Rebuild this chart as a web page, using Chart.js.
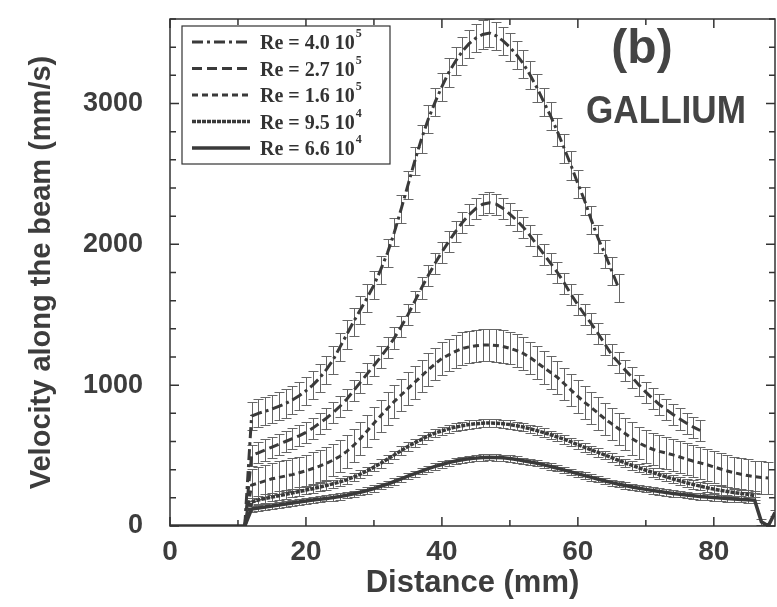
<!DOCTYPE html>
<html>
<head>
<meta charset="utf-8">
<script src="https://cdn.jsdelivr.net/npm/chart.js@4.4.0/dist/chart.umd.min.js"></script>
<style>
  html, body { margin: 0; padding: 0; background: #fff; }
  #wrap { width: 777px; height: 607px; position: relative; }
</style>
</head>
<body>
<div id="wrap"><canvas id="velocityChart"></canvas></div>
<script>
// sampling grid along the beam (mm)
const distance = [0, 1, 2, 3, 4, 5, 6, 7, 8, 9, 10, 11, 12, 13, 14, 15, 16, 17, 18, 19,
  20, 21, 22, 23, 24, 25, 26, 27, 28, 29, 30, 31, 32, 33, 34, 35, 36, 37, 38, 39,
  40, 41, 42, 43, 44, 45, 46, 47, 48, 49, 50, 51, 52, 53, 54, 55, 56, 57, 58, 59,
  60, 61, 62, 63, 64, 65, 66, 67, 68, 69, 70, 71, 72, 73, 74, 75, 76, 77, 78, 79,
  80, 81, 82, 83, 84, 85, 86, 87, 88, 89];

// velocity (mm/s), each series starts at distance[start]
const re40Start = 11;
const re40 = [0, 780, 800, 815, 830, 850, 870, 895, 925, 960, 1000, 1050, 1110, 1180, 1270,
  1360, 1450, 1535, 1620, 1710, 1820, 1940, 2085, 2250, 2420, 2590, 2750, 2890, 3010, 3120,
  3220, 3300, 3370, 3425, 3465, 3490, 3500, 3480, 3445, 3400, 3345, 3280, 3200, 3110, 3010,
  2910, 2800, 2680, 2560, 2430, 2310, 2170, 2040, 1930, 1810, 1690];

const re27Start = 11;
const re27 = [0, 500, 520, 540, 560, 580, 600, 620, 640, 665, 695, 730, 765, 805, 850,
  900, 960, 1020, 1080, 1140, 1200, 1265, 1335, 1415, 1500, 1595, 1690, 1780, 1865, 1945,
  2020, 2090, 2155, 2210, 2255, 2285, 2295, 2285, 2255, 2215, 2170, 2120, 2060, 1995, 1930,
  1865, 1800, 1725, 1645, 1570, 1500, 1435, 1365, 1290, 1215, 1160, 1105, 1055, 1000, 950,
  905, 862, 826, 792, 760, 730, 702, 678];

const re16Start = 11;
const re16 = [0, 290, 305, 320, 335, 345, 355, 365, 378, 392, 408, 425, 445, 468, 495,
  530, 572, 620, 675, 730, 783, 835, 885, 930, 975, 1020, 1065, 1110, 1150, 1190,
  1215, 1240, 1260, 1272, 1280, 1285, 1286, 1282, 1275, 1262, 1245, 1225, 1195, 1160, 1125,
  1090, 1055, 1010, 965, 920, 878, 840, 800, 760, 725, 690, 655, 620, 590, 565,
  545, 530, 518, 505, 490, 475, 460, 448, 435, 420, 405, 390, 378, 368, 358,
  350, 345, 340];

const re95Start = 11;
const re95 = [0, 170, 185, 195, 205, 215, 225, 235, 245, 255, 265, 276, 288, 300, 313,
  328, 347, 368, 392, 418, 445, 475, 505, 535, 565, 590, 615, 640, 660, 675,
  690, 702, 712, 720, 726, 730, 732, 730, 726, 720, 712, 702, 690, 677, 663,
  648, 632, 615, 597, 578, 558, 540, 522, 504, 485, 466, 447, 430, 413, 396,
  380, 364, 349, 334, 320, 307, 295, 283, 272, 262, 253, 245, 238, 231, 225, 215];

const re66Start = 0;
const re66 = [0, 0, 0, 0, 0, 0, 0, 0, 0, 0, 0, 0, 120, 128, 135, 142, 149, 156, 163, 170,
  177, 184, 190, 196, 203, 210, 219, 229, 240, 252, 266, 282, 298, 316, 335, 354, 372, 390, 407, 423,
  437, 450, 461, 470, 477, 482, 486, 488, 487, 484, 479, 472, 464, 455, 445, 434, 422, 410, 397, 384,
  371, 358, 345, 332, 320, 308, 297, 287, 277, 268, 260, 252, 245, 238, 231, 225, 220, 215, 210, 206,
  202, 198, 195, 192, 189, 186, 183, 30, 0, 95];

// half length of the error bars, one per series
const errHalf = [100, 75, 115, 30, 22];

const mantissa = ["4.0", "2.7", "1.6", "9.5", "6.6"];
const exponent = ["5", "5", "5", "4", "4"];
const supDigits = { "4": "\u2074", "5": "\u2075" };

const xTickStep = 10;
const yTickStep = 200;

const lineColor = "#3a3a3a";
const textColor = "#3d3d3d";
const dashes = [[11, 4, 3, 4], [10, 5], [6, 4], [4, 1], []];
const widths = [3, 3, 3, 3.5, 3.5];

function toPoints(start, values) {
  return values.map((v, i) => ({ x: distance[start + i], y: v }));
}

const seriesData = [
  toPoints(re40Start, re40),
  toPoints(re27Start, re27),
  toPoints(re16Start, re16),
  toPoints(re95Start, re95),
  toPoints(re66Start, re66),
];

Chart.defaults.font.family = "'Liberation Sans', Arial, sans-serif";
Chart.defaults.color = textColor;

const errorBars = {
  id: "errorBars",
  beforeDatasetsDraw(chart) {
    const { ctx, chartArea, scales } = chart;
    const x = scales.x, y = scales.y;
    ctx.save();
    ctx.beginPath();
    ctx.rect(chartArea.left, chartArea.top, chartArea.width, chartArea.height);
    ctx.clip();
    ctx.strokeStyle = "#666";
    ctx.lineWidth = 1;
    chart.data.datasets.forEach((ds) => {
      const e = ds.errHalf;
      ds.data.forEach((p) => {
        if (!p.y) return;
        const px = Math.round(x.getPixelForValue(p.x)) + 0.5;
        const top = Math.round(y.getPixelForValue(p.y + e)) + 0.5;
        const bot = Math.round(y.getPixelForValue(p.y - e)) + 0.5;
        ctx.beginPath();
        ctx.moveTo(px, top);
        ctx.lineTo(px, bot);
        ctx.moveTo(px - 5, top);
        ctx.lineTo(px + 5, top);
        ctx.moveTo(px - 5, bot);
        ctx.lineTo(px + 5, bot);
        ctx.stroke();
      });
    });
    ctx.restore();
  },
};

const frameAndLabels = {
  id: "frameAndLabels",
  afterDraw(chart) {
    const { ctx, chartArea, scales } = chart;
    const x = scales.x, y = scales.y;
    const { left, right, top, bottom } = chartArea;
    ctx.save();
    ctx.strokeStyle = "#333";
    ctx.lineWidth = 1.5;
    ctx.strokeRect(left, top, right - left, bottom - top);

    // inward ticks on all four sides
    x.ticks.forEach((t) => {
      if (t.value % xTickStep !== 0) return;
      const px = x.getPixelForValue(t.value);
      const len = t.value % 20 === 0 ? 9 : 6;
      ctx.beginPath();
      ctx.moveTo(px, bottom);
      ctx.lineTo(px, bottom - len);
      ctx.moveTo(px, top);
      ctx.lineTo(px, top + len);
      ctx.stroke();
    });
    y.ticks.forEach((t) => {
      const py = y.getPixelForValue(t.value);
      const len = t.value % 1000 === 0 ? 9 : 6;
      ctx.beginPath();
      ctx.moveTo(left, py);
      ctx.lineTo(left + len, py);
      ctx.moveTo(right, py);
      ctx.lineTo(right - len, py);
      ctx.stroke();
    });

    // legend box
    const bx = 182, by = 26, bw = 208, bh = 138;
    ctx.fillStyle = "#fff";
    ctx.fillRect(bx, by, bw, bh);
    ctx.lineWidth = 1.2;
    ctx.strokeRect(bx, by, bw, bh);
    chart.data.datasets.forEach((ds, i) => {
      const ry = 42 + i * 26.5;
      ctx.strokeStyle = lineColor;
      ctx.lineWidth = ds.borderWidth;
      ctx.setLineDash(ds.borderDash);
      ctx.beginPath();
      ctx.moveTo(192, ry);
      ctx.lineTo(250, ry);
      ctx.stroke();
      ctx.setLineDash([]);
      ctx.fillStyle = "#333";
      ctx.textAlign = "left";
      ctx.textBaseline = "alphabetic";
      ctx.font = "bold 20px 'Liberation Serif', 'Times New Roman', serif";
      const main = "Re = " + mantissa[i] + " 10";
      ctx.fillText(main, 260, ry + 7);
      const w = ctx.measureText(main).width;
      ctx.font = "bold 12px 'Liberation Serif', 'Times New Roman', serif";
      ctx.fillText(exponent[i], 260 + w + 1, ry - 5);
    });

    // panel annotations
    ctx.fillStyle = "#444";
    ctx.textAlign = "center";
    ctx.textBaseline = "middle";
    ctx.font = "bold 48px 'Liberation Sans', Arial, sans-serif";
    ctx.fillText("(b)", 642, 50);
    ctx.save();
    ctx.translate(666, 112);
    ctx.scale(0.9, 1);
    ctx.font = "bold 39px 'Liberation Sans', Arial, sans-serif";
    ctx.fillText("GALLIUM", 0, 0);
    ctx.restore();
    ctx.restore();
  },
};

function noPadding(scale) {
  scale.paddingTop = 0;
  scale.paddingBottom = 0;
  scale.paddingLeft = 0;
  scale.paddingRight = 0;
}

const ctx = document.getElementById("velocityChart").getContext("2d");
const velocityChart = new Chart(ctx, {
  type: "line",
  data: {
    datasets: seriesData.map((pts, i) => ({
      label: "Re = " + mantissa[i] + " 10" + supDigits[exponent[i]],
      data: pts,
      errHalf: errHalf[i],
      borderColor: lineColor,
      borderWidth: widths[i],
      borderDash: dashes[i],
      pointRadius: 0,
      tension: 0,
      fill: false,
    })),
  },
  options: {
    responsive: true,
    maintainAspectRatio: false,
    animation: false,
    layout: { padding: { top: 19, right: 2, left: 0, bottom: 0 } },
    plugins: {
      legend: { display: false },
      tooltip: { enabled: false },
    },
    scales: {
      x: {
        type: "linear",
        min: 0,
        max: 89,
        afterFit(scale) {
          scale.height = 81;
          noPadding(scale);
        },
        grid: { display: false, drawTicks: false },
        border: { display: false },
        ticks: {
          stepSize: xTickStep,
          autoSkip: false,
          maxRotation: 0,
          padding: 9,
          font: { size: 28, weight: "bold" },
          callback: (v) => (v % 20 === 0 ? v : ""),
        },
        title: {
          display: true,
          text: "Distance (mm)",
          font: { size: 31, weight: "bold" },
          padding: { top: 0, bottom: 5 },
        },
      },
      y: {
        type: "linear",
        min: 0,
        max: 3600,
        afterFit(scale) {
          scale.width = 170;
          noPadding(scale);
        },
        grid: { display: false, drawTicks: false },
        border: { display: false },
        ticks: {
          stepSize: yTickStep,
          autoSkip: false,
          padding: 27,
          font: { size: 27, weight: "bold" },
          callback: (v) => (v % 1000 === 0 ? v : ""),
        },
        title: {
          display: true,
          text: "Velocity along the beam (mm/s)",
          font: { size: 29, weight: "bold" },
          padding: { top: 25, bottom: 0 },
        },
      },
    },
  },
  plugins: [errorBars, frameAndLabels],
});
</script>
</body>
</html>
